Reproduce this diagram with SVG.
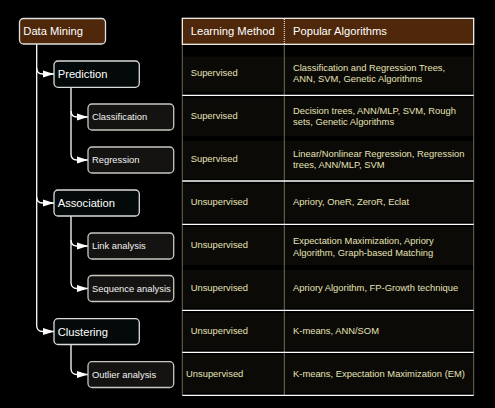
<svg xmlns="http://www.w3.org/2000/svg" width="495" height="408" viewBox="0 0 495 408">
<defs>
<marker id="arr" markerUnits="userSpaceOnUse" markerWidth="11" markerHeight="8" refX="11" refY="4" orient="auto">
<path d="M0,0.5 L11,4 L0,7.5 z" fill="#ffffff"/>
</marker>
<style>
.root rect{fill:#4f280b;stroke:#e0e0e0;stroke-width:1.3}
.l1 rect{fill:#040a0a;stroke:#dcdcdc;stroke-width:1.3}
.l2 rect{fill:#141312;stroke:#c8c8c0;stroke-width:1.3}
.big{font-family:"Liberation Sans",Arial,sans-serif;font-size:11.2px;fill:#ffffff}
.sm{font-family:"Liberation Sans",Arial,sans-serif;font-size:9.4px;fill:#f2f2f0}
.cell{font-family:"Liberation Sans",Arial,sans-serif;font-size:9.4px;fill:#e6e2b8}
.hdr{font-family:"Liberation Sans",Arial,sans-serif;font-size:11.2px;fill:#ffffff}
.conn path{fill:none;stroke:#ffffff;stroke-width:1.3}
.dot{stroke:#d8d4b0;stroke-width:1;stroke-dasharray:1 1;fill:none}
.hl{stroke:#ffffff;stroke-width:1.3;fill:none}
.rowbg{fill:#0b0a06}
</style>
</defs>
<rect width="495" height="408" fill="#000000"/>

<g id="table">
<rect class="rowbg" x="183" y="56.7" width="290" height="35"/>
<rect class="rowbg" x="183" y="98" width="290" height="38"/>
<rect class="rowbg" x="183" y="141" width="290" height="38"/>
<rect class="rowbg" x="183" y="184" width="290" height="38"/>
<rect class="rowbg" x="183" y="227" width="290" height="38"/>
<rect class="rowbg" x="183" y="270" width="290" height="38"/>
<rect class="rowbg" x="183" y="313" width="290" height="37"/>
<rect class="rowbg" x="183" y="355" width="290" height="38"/>
<rect x="182.3" y="18.3" width="291.4" height="26" fill="#4f280b" stroke="#ffffff" stroke-width="1.2"/>
<line x1="284.3" y1="19" x2="284.3" y2="44" stroke="#ffffff" stroke-width="1" stroke-dasharray="1 1"/>
<line class="dot" x1="182.3" y1="44.5" x2="182.3" y2="395"/>
<line class="dot" x1="284.3" y1="44.5" x2="284.3" y2="395"/>
<line class="dot" x1="473.7" y1="44.5" x2="473.7" y2="395"/>
<line class="hl" x1="182.3" y1="95.3" x2="473.7" y2="95.3"/>
<line class="hl" x1="182.3" y1="181" x2="473.7" y2="181"/>
<line class="hl" x1="182.3" y1="224.3" x2="473.7" y2="224.3"/>
<line class="hl" x1="182.3" y1="310.3" x2="473.7" y2="310.3"/>
<line class="hl" x1="182.3" y1="352.3" x2="473.7" y2="352.3"/>
<line class="hl" x1="182.3" y1="395.3" x2="473.7" y2="395.3"/>
<text class="hdr" x="190.7" y="34.5">Learning Method</text>
<text class="hdr" x="293" y="34.5">Popular Algorithms</text>

<text class="cell" x="190.7" y="76">Supervised</text>
<text class="cell" x="293" y="71">Classification and Regression Trees,</text>
<text class="cell" x="293" y="82.3">ANN, SVM, Genetic Algorithms</text>

<text class="cell" x="190.7" y="119.3">Supervised</text>
<text class="cell" x="293" y="114">Decision trees, ANN/MLP, SVM, Rough</text>
<text class="cell" x="293" y="125.3">sets, Genetic Algorithms</text>

<text class="cell" x="190.7" y="162">Supervised</text>
<text class="cell" x="293" y="157.3">Linear/Nonlinear Regression, Regression</text>
<text class="cell" x="293" y="168">trees, ANN/MLP, SVM</text>

<text class="cell" x="190.7" y="205.3">Unsupervised</text>
<text class="cell" x="293" y="205.3">Apriory, OneR, ZeroR, Eclat</text>

<text class="cell" x="190.7" y="248.3">Unsupervised</text>
<text class="cell" x="293" y="243.6">Expectation Maximization, Apriory</text>
<text class="cell" x="293" y="256">Algorithm, Graph-based Matching</text>

<text class="cell" x="190.7" y="291.3">Unsupervised</text>
<text class="cell" x="293" y="291.3">Apriory Algorithm, FP-Growth technique</text>

<text class="cell" x="190.7" y="334">Unsupervised</text>
<text class="cell" x="293" y="334">K-means, ANN/SOM</text>

<text class="cell" x="186" y="377.3">Unsupervised</text>
<text class="cell" x="293" y="377.3">K-means, Expectation Maximization (EM)</text>
</g>

<g id="connectors" class="conn">
<path d="M36.7,44 V325.5 Q36.7,331.5 42.7,331.5 H54" marker-end="url(#arr)"/>
<path d="M36.7,68 Q36.7,74 42.7,74 H54" marker-end="url(#arr)"/>
<path d="M36.7,197 Q36.7,203 42.7,203 H54" marker-end="url(#arr)"/>
<path d="M71,87.3 V154 Q71,160 77,160 H88" marker-end="url(#arr)"/>
<path d="M71,111 Q71,117 77,117 H88" marker-end="url(#arr)"/>
<path d="M71,216 V282.5 Q71,288.5 77,288.5 H88" marker-end="url(#arr)"/>
<path d="M71,240 Q71,246 77,246 H88" marker-end="url(#arr)"/>
<path d="M71,344.5 V368.5 Q71,374.5 77,374.5 H88" marker-end="url(#arr)"/>
</g>

<g id="n-datamining" class="root"><rect x="19.5" y="18.5" width="86" height="25.5" rx="4"/><text class="big" x="23.3" y="35">Data Mining</text></g>
<g id="n-prediction" class="l1"><rect x="54" y="61" width="85.3" height="26.3" rx="4"/><text class="big" x="57.7" y="78">Prediction</text></g>
<g id="n-classification" class="l2"><rect x="88" y="104" width="85.7" height="26" rx="4"/><text class="sm" x="92" y="120.4">Classification</text></g>
<g id="n-regression" class="l2"><rect x="88" y="147" width="85.7" height="26" rx="4"/><text class="sm" x="92" y="163.4">Regression</text></g>
<g id="n-association" class="l1"><rect x="54" y="190" width="85.3" height="26" rx="4"/><text class="big" x="57.7" y="207">Association</text></g>
<g id="n-link" class="l2"><rect x="88" y="233" width="85.7" height="26" rx="4"/><text class="sm" x="92" y="249.4">Link analysis</text></g>
<g id="n-sequence" class="l2"><rect x="88" y="275.5" width="85.7" height="26" rx="4"/><text class="sm" x="92" y="291.9">Sequence analysis</text></g>
<g id="n-clustering" class="l1"><rect x="54" y="318.7" width="85.3" height="25.8" rx="4"/><text class="big" x="57.7" y="335.5">Clustering</text></g>
<g id="n-outlier" class="l2"><rect x="88" y="361.7" width="85.7" height="25.8" rx="4"/><text class="sm" x="92" y="378">Outlier analysis</text></g>
</svg>
